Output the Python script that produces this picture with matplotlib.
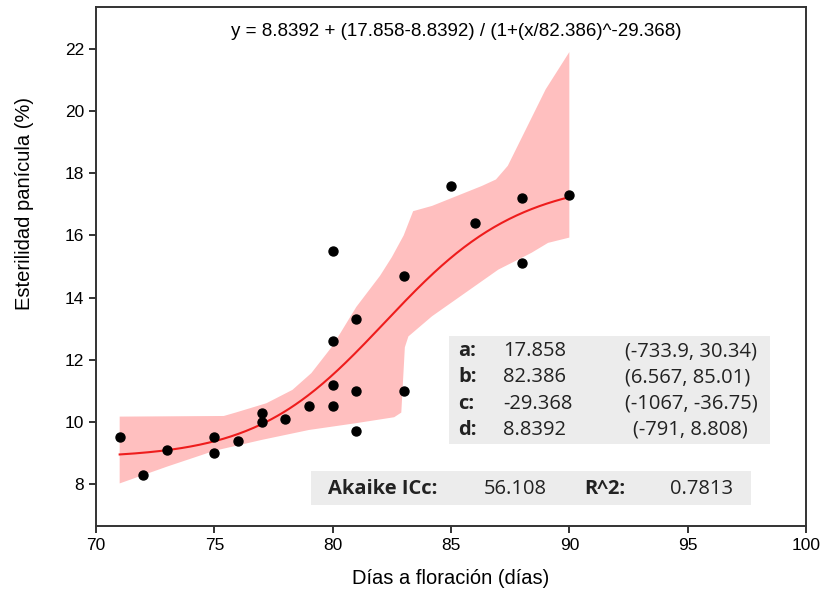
import numpy as np
import matplotlib
matplotlib.use("Agg")
import matplotlib.pyplot as plt
from matplotlib.patches import Rectangle

dias = [71, 72, 73, 75, 75, 76, 77, 77, 78, 79,
        80, 80, 80, 80, 81, 81, 81, 83, 83, 85, 86, 88, 88, 90]
esterilidad = [9.5, 8.3, 9.1, 9.5, 9.0, 9.4, 10.3, 10.0, 10.1, 10.5,
               15.5, 12.6, 11.2, 10.5, 13.3, 11.0, 9.7, 14.7, 11.0, 17.6, 16.4, 17.2, 15.1, 17.3]

# banda di confidenza (bordo inferiore / superiore)
band_lo_x = [71, 73, 75, 77, 79, 81, 82.6, 82.9, 83.05, 83.2, 84.2, 85.6, 87.0, 88.4, 89.1, 90]
band_lo_y = [8.02, 8.56, 9.07, 9.42, 9.74, 9.96, 10.15, 10.3, 12.4, 12.75, 13.4, 14.15, 14.9, 15.44, 15.76, 15.93]
band_hi_x = [71, 75.4, 75.9, 77.2, 78.3, 79.1, 80, 81, 82, 82.5, 83.0, 83.4, 84.2, 86.3, 86.9, 87.4, 89.0, 90]
band_hi_y = [10.17, 10.19, 10.3, 10.6, 11.03, 11.57, 12.45, 13.7, 14.7, 15.3, 16.0, 16.78, 16.95, 17.59, 17.8, 18.24, 20.7, 21.9]

# parametri del modello logistico (dal riquadro)
params = ["a:", "b:", "c:", "d:"]
param_val = ["17.858", "82.386", "-29.368", "8.8392"]
param_ci = ["(-733.9, 30.34)", "(6.567, 85.01)", "(-1067, -36.75)", "(-791, 8.808)"]
a, b, c, d = 17.858, 82.386, -29.368, 8.8392

W, H = 822, 592
fig = plt.figure(figsize=(W / 100, H / 100), dpi=100)
ax = fig.add_axes([96 / W, 1 - 526 / H, (806 - 96) / W, (526 - 7) / H])

# banda
poly_x = band_lo_x + band_hi_x[::-1]
poly_y = band_lo_y + band_hi_y[::-1]
ax.fill(poly_x, poly_y, color="#ffbfbf", lw=0, zorder=1)

# curva
xs = np.linspace(71, 90, 300)
ax.plot(xs, d + (a - d) / (1 + (xs / b) ** c), color="#ee1c1c", lw=1.5, zorder=2)

ax.scatter(dias, esterilidad, s=42, color="black", zorder=3)

ax.set_xlim(70, 100)
ax.set_ylim(6.65, 23.35)
ax.set_xticks(range(70, 101, 5))
ax.set_yticks(range(8, 23, 2))
for s in ax.spines.values():
    s.set_color("#333333")
    s.set_linewidth(1.4)
ax.tick_params(colors="#333333", width=1.4, length=5, labelsize=12.5,
               labelcolor="black")
for lab in ax.get_xticklabels() + ax.get_yticklabels():
    lab.set_family(["Liberation Sans", "DejaVu Sans"])

ax.set_xlabel("Días a floración (días)", fontsize=14.5, family="Liberation Sans", labelpad=12)
ax.set_ylabel("Esterilidad panícula (%)", fontsize=14.5, family="Liberation Sans")
ax.yaxis.set_label_coords(-0.088, 0.622)

# equazione
fig.text(456 / W, 1 - 31 / H,
         "y = 8.8392 + (17.858-8.8392) / (1+(x/82.386)^-29.368)",
         ha="center", va="center", fontsize=13.5, family="Liberation Sans")

# riquadri grigi
def px_rect(x0, y0, x1, y1):
    return Rectangle((x0 / W, 1 - y1 / H), (x1 - x0) / W, (y1 - y0) / H,
                     transform=fig.transFigure, facecolor="#ececec",
                     edgecolor="none", zorder=0)

fig.patches.append(px_rect(449, 336, 770, 444))
fig.patches.append(px_rect(311, 471, 751, 505))

fs = 14.5
txt = dict(va="center", ha="left", fontsize=fs, family="Open Sans", color="#222222")
row_y = [351, 377.5, 404, 430]
for name, val, ci, yy in zip(params, param_val, param_ci, row_y):
    fig.text(458 / W, 1 - yy / H, name, weight="bold", **txt)
    fig.text(503 / W, 1 - yy / H, val, **txt)
    ci_x = 633 if name == "d:" else 625
    fig.text(ci_x / W, 1 - yy / H, ci, **txt)

yy = 489
fig.text(328 / W, 1 - yy / H, "Akaike ICc:", weight="bold", **txt)
fig.text(484 / W, 1 - yy / H, "56.108", **txt)
fig.text(584 / W, 1 - yy / H, "R^2:", weight="bold", **txt)
fig.text(670 / W, 1 - yy / H, "0.7813", **txt)

fig.savefig("out.png", dpi=100)
